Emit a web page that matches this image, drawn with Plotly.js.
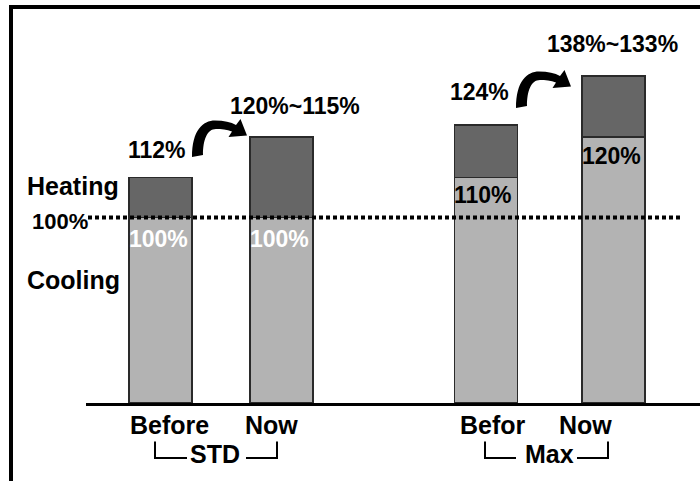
<!DOCTYPE html>
<html>
<head>
<meta charset="utf-8">
<script src="https://cdn.plot.ly/plotly-3.0.1.min.js"></script>
<style>html,body{margin:0;padding:0;background:#fff;}#chart{width:700px;height:481px;}</style>
</head>
<body>
<div id="chart"></div>
<script>
// ---- data ----
const barLabels = ['Before', 'Now', 'Befor', 'Now'];
const groups = ['STD', 'Max'];
const coolingValues = [100, 100, 121.5, 143.5];
const heatingValues = [21.5, 43.5, 28.5, 32.8];
const coolingLabels = ['100%', '100%', '110%', '120%'];
const topLabels = ['112%', '120%~115%', '124%', '138%~133%'];
const sideLabels = ['Heating', 'Cooling'];
const refLevel = 100;
const refLabel = '100%';

// ---- layout geometry ----
const W = 700, H = 481, ML = 86, MR = 0, MT = 5, MB = 78;
const PW = W - ML - MR, PH = H - MT - MB;
const pxPerUnit = 1.855;
const slotPx = 121, firstCenterPx = 160.5;
const xPos = [0, 1, 2.69, 3.745];
const barWidth = 0.52;
const px = x => (x - ML) / PW;
const py = y => (H - MB - y) / PH;

const FONT = 'Liberation Sans, Arial, Helvetica, sans-serif';
const cool = '#b3b3b3', heat = '#666666', edge = '#2a2a2a';

const traces = [
  {type: 'bar', x: xPos, y: coolingValues, width: barWidth, name: 'Cooling',
   marker: {color: cool, line: {color: edge, width: 1.5}}, hoverinfo: 'skip'},
  {type: 'bar', x: xPos, y: heatingValues, width: barWidth, name: 'Heating',
   marker: {color: heat, line: {color: edge, width: 1.5}}, hoverinfo: 'skip'}
];

function txt(text, xLeft, yCenter, size, color) {
  return {text: text, xref: 'paper', yref: 'paper', x: px(xLeft), y: py(yCenter),
    xanchor: 'left', yanchor: 'middle', showarrow: false, borderpad: 0,
    font: {family: FONT, size: size, color: color || '#000', weight: 700}};
}

const annotations = [];
annotations.push(txt(sideLabels[0], 26, 186, 25));
annotations.push(txt(sideLabels[1], 26, 279.5, 25));
annotations.push(txt(refLabel, 31, 221, 22));
const topPos = [[127, 150], [229, 106], [449, 91.5], [546, 44]];
topLabels.forEach((t, i) => annotations.push(txt(t, topPos[i][0], topPos[i][1], 23)));
const innerColors = ['#fff', '#fff', '#000', '#000'];
const innerShift = [-7, -7, -3, -5];
coolingLabels.forEach((t, i) => annotations.push({
  text: t, xref: 'x', yref: 'y', x: xPos[i], y: coolingValues[i], xanchor: 'center', yanchor: 'top',
  xshift: -2.5, yshift: innerShift[i], showarrow: false, borderpad: 0,
  font: {family: FONT, size: 23, color: innerColors[i], weight: 700}}));
const tickPos = [[129, 424.5], [244, 424.5], [459, 424.5], [558, 424.5]];
barLabels.forEach((t, i) => annotations.push(txt(t, tickPos[i][0], tickPos[i][1], 25)));
annotations.push(txt(groups[0], 189, 453.5, 25));
annotations.push(txt(groups[1], 524, 453.5, 25));

function path(pts) {
  return pts.map((p, i) => (i ? 'L' : 'M') + px(p[0]) + ',' + py(p[1])).join(' ');
}
function arrowPath(dx, dy) {
  const P = (x, y) => px(x + dx) + ',' + py(y + dy);
  return 'M' + P(192, 157) +
    ' C' + P(192, 130) + ' ' + P(203, 120.5) + ' ' + P(215, 120.5) +
    ' C' + P(224, 120.5) + ' ' + P(231, 122) + ' ' + P(236, 125) +
    ' L' + P(240.5, 119) + ' L' + P(247, 135.5) + ' L' + P(228.5, 137) + ' L' + P(232, 131.5) +
    ' C' + P(227, 129.5) + ' ' + P(221, 129) + ' ' + P(216, 129) +
    ' C' + P(207, 129) + ' ' + P(203, 140) + ' ' + P(203, 155) + ' Z';
}

const shapes = [
  {type: 'line', xref: 'paper', yref: 'paper', x0: px(9), x1: px(700), y0: py(7), y1: py(7),
   line: {color: '#000', width: 4}},
  {type: 'line', xref: 'paper', yref: 'paper', x0: px(11), x1: px(11), y0: py(5), y1: py(481),
   line: {color: '#000', width: 4}},
  {type: 'line', xref: 'paper', yref: 'y', x0: px(88), x1: px(682), y0: refLevel, y1: refLevel,
   line: {color: '#000', width: 4, dash: '4px,3px'}},
  {type: 'path', xref: 'paper', yref: 'paper', path: arrowPath(0, 0), fillcolor: '#000', line: {width: 0}},
  {type: 'path', xref: 'paper', yref: 'paper', path: arrowPath(324, -49), fillcolor: '#000', line: {width: 0}},
  {type: 'path', xref: 'paper', yref: 'paper', path: path([[155, 441.5], [155, 458], [187, 458]]), line: {color: '#000', width: 2}},
  {type: 'path', xref: 'paper', yref: 'paper', path: path([[246, 458], [277, 458], [277, 441.5]]), line: {color: '#000', width: 2}},
  {type: 'path', xref: 'paper', yref: 'paper', path: path([[485, 441.5], [485, 458], [516, 458]]), line: {color: '#000', width: 2}},
  {type: 'path', xref: 'paper', yref: 'paper', path: path([[577, 458], [608, 458], [608, 441.5]]), line: {color: '#000', width: 2}}
];

const layout = {
  width: W, height: H, margin: {l: ML, r: MR, t: MT, b: MB, pad: 0},
  paper_bgcolor: '#fff', plot_bgcolor: '#fff', showlegend: false, barmode: 'stack',
  xaxis: {range: [(ML - firstCenterPx) / slotPx, (W - MR - firstCenterPx) / slotPx],
    showline: true, linecolor: '#000', linewidth: 2.5, showgrid: false, zeroline: false,
    showticklabels: false, ticks: '', fixedrange: true},
  yaxis: {range: [0, PH / pxPerUnit], visible: false, showgrid: false, zeroline: false, fixedrange: true},
  shapes: shapes, annotations: annotations
};

Plotly.newPlot('chart', traces, layout, {displayModeBar: false, staticPlot: true});
</script>
</body>
</html>
